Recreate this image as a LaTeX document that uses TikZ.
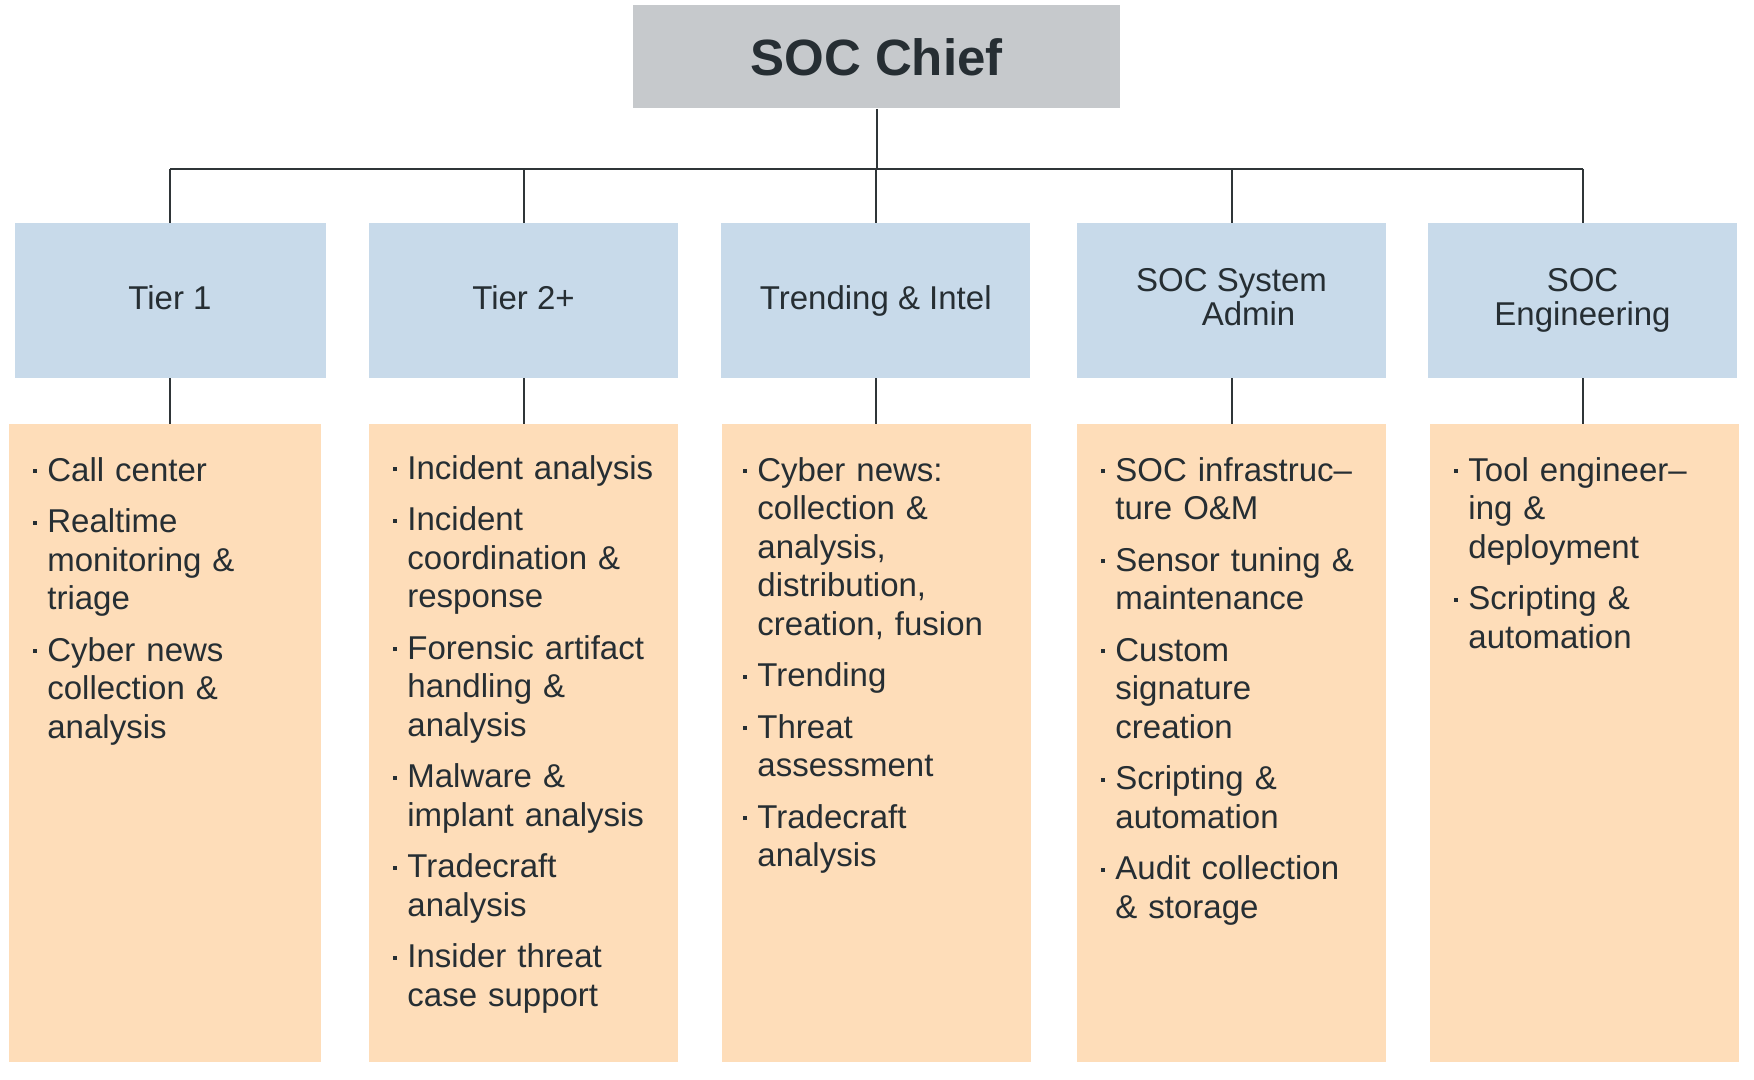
\documentclass[tikz,border=0pt]{standalone}
\usepackage{fontspec}
\setmainfont{Liberation Sans}

\definecolor{ink}{HTML}{262E33}
\definecolor{linkgrey}{HTML}{2F3538}
\definecolor{chiefgrey}{HTML}{C6C9CC}
\definecolor{headblue}{HTML}{C8DAEA}
\definecolor{dutyorange}{HTML}{FEDDB9}

% bullet mark: a small square dot at mid x-height
\newcommand\dotmark{\makebox[7pt][l]{\rule[4pt]{2pt}{2pt}}}
% first duty of a list (continues the paragraph the node opens)
\newcommand\fitm{\leavevmode\hangindent=7pt\hangafter=1\dotmark}
% every further duty: new paragraph with a small gap, hanging indent
\newcommand\itm{\par\parskip=6.5pt\relax\hangindent=7pt\hangafter=1\noindent\dotmark}

\begin{document}
\begin{tikzpicture}[x=0.5pt,y=-0.5pt,
  chiefbox/.style={fill=chiefgrey, minimum width=243.5pt, minimum height=51.5pt,
    inner sep=0pt, font=\bfseries\fontsize{25.5}{30}\selectfont, text=ink},
  headbox/.style={fill=headblue, minimum width=154.5pt, minimum height=77.5pt,
    inner sep=0pt, align=center, font=\fontsize{16.5}{17.35}\selectfont, text=ink},
  dutybox/.style={fill=dutyorange, minimum width=154.5pt, minimum height=319pt,
    inner sep=0pt, anchor=north west},
  duties/.style={anchor=base west, inner sep=0pt, text width=170pt, align=left,
    font=\fontsize{16.5}{19.25}\selectfont, text=ink},
  link/.style={draw=linkgrey, line width=1pt}]

\useasboundingbox[fill=white] (0,0) rectangle (1754,1080);

% top of the hierarchy
\node[chiefbox] (chief) at (876.5,57) {SOC Chief};

% team headers
\node[headbox, minimum width=155.5pt] (h1) at (170,300.5) {Tier 1\vphantom{g}};
\node[headbox] (h2) at (523.5,300.5) {Tier 2+\vphantom{g}};
\node[headbox] (h3) at (875.75,300.5) {Trending \& Intel};
\node[headbox] (h4) at (1231.5,300.5) {SOC System\\\hspace*{17pt}Admin\vphantom{g}};
\node[headbox] (h5) at (1582.5,300.5) {SOC\\Engineering};

% duty panels
\node[dutybox, minimum width=156pt] (b1) at (9,424) {};
\node[dutybox] (b2) at (369,424) {};
\node[dutybox] (b3) at (721.5,424) {};
\node[dutybox] (b4) at (1077,424) {};
\node[dutybox] (b5) at (1430,424) {};

% duty lists
\node[duties] (t1) at (33,481) {%
  \fitm Call center
  \itm Realtime\newline monitoring \&\newline triage
  \itm Cyber news\newline collection \&\newline analysis\par};
\node[duties] (t2) at (393,479) {%
  \fitm Incident analysis
  \itm Incident\newline coordination \&\newline response
  \itm Forensic artifact\newline handling \&\newline analysis
  \itm Malware \&\newline implant analysis
  \itm Tradecraft\newline analysis
  \itm Insider threat\newline case support\par};
\node[duties] (t3) at (743,481) {%
  \fitm Cyber news:\newline collection \&\newline analysis,\newline distribution,\newline creation, fusion
  \itm Trending
  \itm Threat\newline assessment
  \itm Tradecraft\newline analysis\par};
\node[duties] (t4) at (1101,481) {%
  \fitm SOC infrastruc–\newline ture O\&M
  \itm Sensor tuning \&\newline maintenance
  \itm Custom\newline signature\newline creation
  \itm Scripting \&\newline automation
  \itm Audit collection\newline \& storage\par};
\node[duties] (t5) at (1454,481) {%
  \fitm Tool engineer–\newline ing \&\newline deployment
  \itm Scripting \&\newline automation\par};

% connectors
\coordinate (bus) at (0,169);
\draw[link] (chief.south) -- (chief.south |- bus);
\draw[link] (h1.north |- bus) -- (h5.north |- bus);
\foreach \i in {1,...,5} {
  \draw[link] (h\i.north |- bus) -- (h\i.north);
  \draw[link] (h\i.south) -- (h\i.south |- b\i.north);
}
\end{tikzpicture}
\end{document}
